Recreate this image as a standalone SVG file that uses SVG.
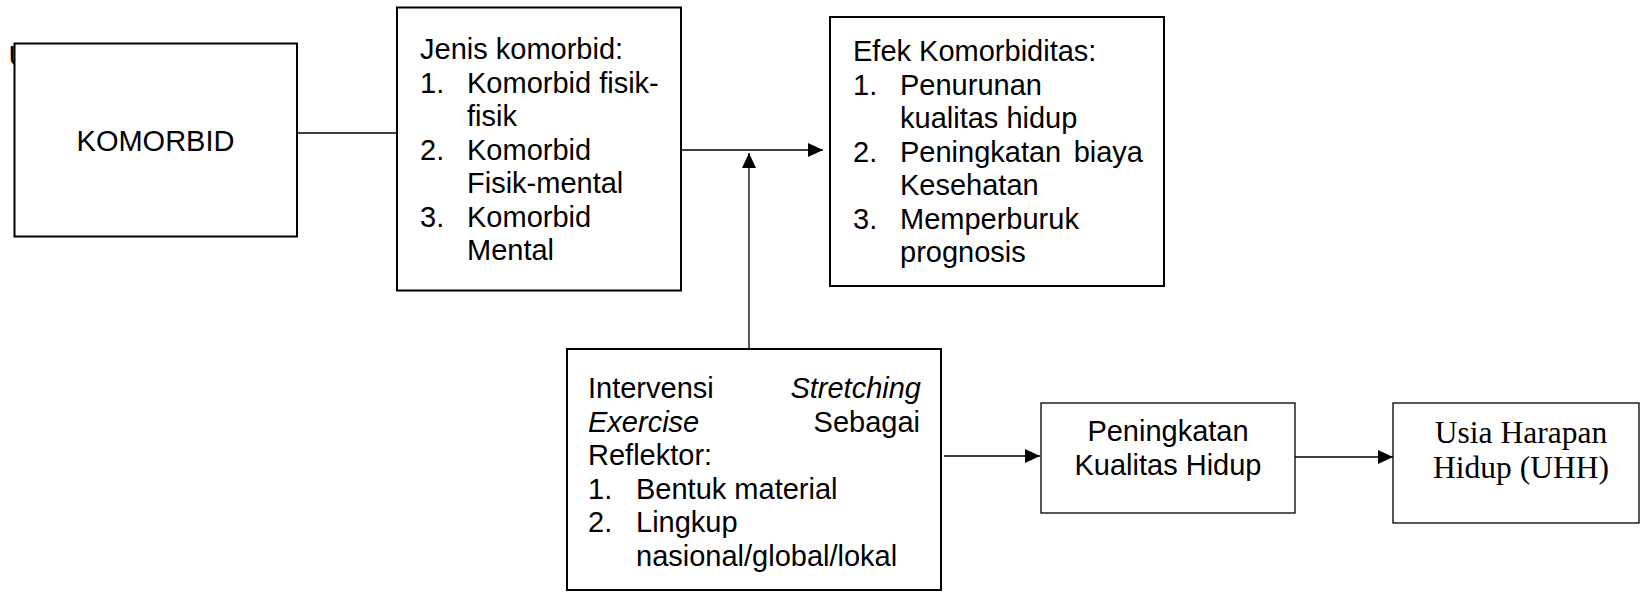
<svg xmlns="http://www.w3.org/2000/svg" width="1640" height="592" viewBox="0 0 1640 592">
<style>
.box{fill:#fff;stroke:#000;stroke-width:2}
.thin{stroke-width:1.3}
.t{font-family:"Liberation Sans",Arial,sans-serif;font-size:29px;fill:#000}
.it{font-style:italic}
.tt{font-family:"Liberation Serif","Times New Roman",serif;font-size:31.5px;fill:#000}
.conn{stroke:#000;stroke-width:1.3;fill:none}
</style>
<defs>
<marker id="arr" markerUnits="userSpaceOnUse" markerWidth="16" markerHeight="14" refX="15" refY="7" orient="auto">
<path d="M0,0 L15,7 L0,14 z" fill="#000"/>
</marker>
</defs>
<rect width="1640" height="592" fill="#fff"/>
<text class="t" x="8.5" y="66">U</text>
<g id="komorbid">
<rect class="box" x="14.5" y="43.5" width="282.5" height="193"/>
<text class="t" x="155.5" y="151" text-anchor="middle">KOMORBID</text>
</g>
<g id="jenis">
<rect class="box" x="397" y="7.5" width="284" height="283"/>
<text class="t" x="420" y="59">Jenis komorbid:</text>
<text class="t" x="420" y="92.5">1.</text><text class="t" x="467" y="92.5">Komorbid fisik-</text>
<text class="t" x="467" y="126">fisik</text>
<text class="t" x="420" y="159.5">2.</text><text class="t" x="467" y="159.5">Komorbid</text>
<text class="t" x="467" y="193">Fisik-mental</text>
<text class="t" x="420" y="226.5">3.</text><text class="t" x="467" y="226.5">Komorbid</text>
<text class="t" x="467" y="260">Mental</text>
</g>
<g id="efek">
<rect class="box" x="830" y="17" width="334" height="269"/>
<text class="t" x="853" y="61">Efek Komorbiditas:</text>
<text class="t" x="853" y="95">1.</text><text class="t" x="900" y="95">Penurunan</text>
<text class="t" x="900" y="128">kualitas hidup</text>
<text class="t" x="853" y="162">2.</text><text class="t" x="900" y="162">Peningkatan</text><text class="t" x="1143" y="162" text-anchor="end">biaya</text>
<text class="t" x="900" y="195">Kesehatan</text>
<text class="t" x="853" y="229">3.</text><text class="t" x="900" y="229">Memperburuk</text>
<text class="t" x="900" y="262">prognosis</text>
</g>
<g id="intervensi">
<rect class="box" x="567" y="349" width="374" height="241"/>
<text class="t" x="588" y="398">Intervensi</text><text class="t it" x="921" y="398" text-anchor="end">Stretching</text>
<text class="t it" x="588" y="431.5">Exercise</text><text class="t" x="920" y="431.5" text-anchor="end">Sebagai</text>
<text class="t" x="588" y="465">Reflektor:</text>
<text class="t" x="588" y="498.5">1.</text><text class="t" x="636" y="498.5">Bentuk material</text>
<text class="t" x="588" y="532">2.</text><text class="t" x="636" y="532">Lingkup</text>
<text class="t" x="636" y="565.5">nasional/global/lokal</text>
</g>
<g id="peningkatan">
<rect class="box thin" x="1041" y="403" width="254" height="110"/>
<text class="t" x="1168" y="441" text-anchor="middle">Peningkatan</text>
<text class="t" x="1168" y="475" text-anchor="middle">Kualitas Hidup</text>
</g>
<g id="uhh">
<rect class="box thin" x="1393" y="403" width="246" height="120"/>
<text class="tt" x="1521" y="443" text-anchor="middle">Usia Harapan</text>
<text class="tt" x="1521" y="478" text-anchor="middle">Hidup (UHH)</text>
</g>
<g id="connectors">
<line class="conn" x1="297" y1="133" x2="398" y2="133"/>
<line class="conn" x1="681" y1="150" x2="823" y2="150" marker-end="url(#arr)"/>
<line class="conn" x1="749" y1="349" x2="749" y2="153" marker-end="url(#arr)"/>
<line class="conn" x1="944" y1="456" x2="1040" y2="456" marker-end="url(#arr)"/>
<line class="conn" x1="1295" y1="457" x2="1393" y2="457" marker-end="url(#arr)"/>
</g>
</svg>
